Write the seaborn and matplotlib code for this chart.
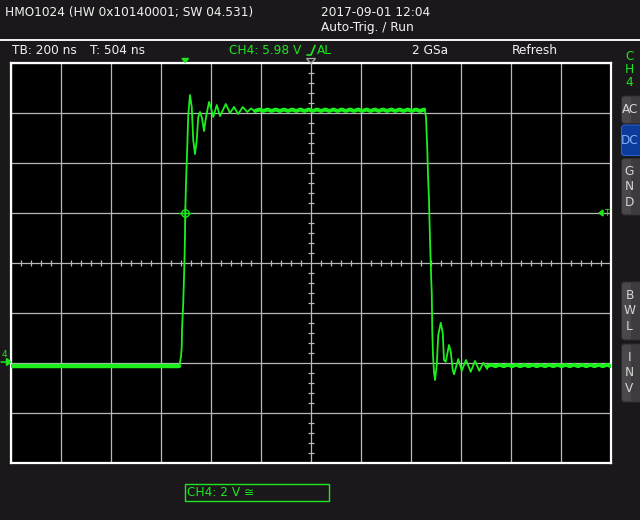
import numpy as np
import pandas as pd
import matplotlib
matplotlib.use("Agg")
import matplotlib.pyplot as plt
from matplotlib.patches import FancyBboxPatch, Rectangle, Polygon
import seaborn as sns

# CH4 waveform: time in ns (relative to trigger), voltage in V
base_t = [-696, -24]
base_v = [-0.1, -0.1]

rise_t = [-24, -20, -16, -13, -12, -7, -2, 0, 1, 4, 9, 13, 20, 27, 33, 40, 47, 53,
          60, 68, 76, 84, 96, 104, 113, 127, 140, 163, 180, 196, 213, 231, 249, 264, 280]
rise_v = [-0.08, 0.02, 0.26, 0.66, 1.32, 2.4, 4.12, 5.12, 6.0, 7.2, 8.64, 9.92, 10.72,
          10.24, 8.92, 8.36, 8.92, 9.84, 10.04, 9.8, 9.28, 9.84, 10.44, 10.2, 9.84,
          10.32, 9.88, 10.36, 10.0, 10.24, 9.96, 10.24, 10.04, 10.18, 10.06]

plateau_t = [280, 297, 313, 330, 346, 363, 379, 396, 412, 429, 445, 462, 478, 495,
             511, 528, 544, 561, 577, 594, 610, 627, 643, 660, 676, 693, 709, 726,
             742, 759, 775, 792, 808, 825, 841, 858, 874, 891, 907, 924, 940, 957]
plateau_v = [10.08, 10.14, 10.08, 10.14, 10.08, 10.14, 10.08, 10.14, 10.08, 10.14,
             10.08, 10.14, 10.08, 10.14, 10.08, 10.14, 10.08, 10.14, 10.08, 10.14,
             10.08, 10.14, 10.08, 10.14, 10.08, 10.14, 10.08, 10.14, 10.08, 10.14,
             10.08, 10.14, 10.08, 10.14, 10.08, 10.14, 10.08, 10.14, 10.08, 10.14,
             10.08, 10.14]

fall_t = [957, 960, 964, 966, 969, 972, 976, 980, 985, 987, 989, 992, 996, 1000,
          1007, 1013, 1023, 1031, 1036, 1043, 1047, 1056, 1063, 1071, 1076, 1093,
          1107, 1124, 1143, 1160, 1177, 1193, 1209]
fall_v = [10.14, 10.06, 9.84, 9.32, 8.6, 7.52, 6.52, 4.92, 3.32, 2.8, 1.32, 0.32,
          -0.36, -0.68, -0.08, 1.12, 1.61, 1.2, 0.12, 0.05, 0.25, 0.72, 0.45, -0.28,
          -0.45, 0.16, -0.31, 0.12, -0.35, 0.08, -0.31, 0.01, -0.24]

tail_t = [1209, 1226, 1242, 1259, 1275, 1292, 1308, 1325, 1341, 1358, 1374, 1391,
          1407, 1424, 1440, 1457, 1473, 1490, 1506, 1523, 1539, 1556, 1572, 1589,
          1605, 1622, 1638, 1655, 1671, 1688, 1704]
tail_v = [-0.13, -0.07, -0.13, -0.07, -0.13, -0.07, -0.13, -0.07, -0.13, -0.07,
          -0.13, -0.07, -0.13, -0.07, -0.13, -0.07, -0.13, -0.07, -0.13, -0.07,
          -0.13, -0.07, -0.13, -0.07, -0.13, -0.07, -0.13, -0.07, -0.13, -0.07, -0.13]

trig_t, trig_v = 0, 6.0

BG = "#1b181b"
GREEN = "#1ee61e"
TRACE = "#1cf01c"
GRID = "#b8b8b8"
WHITE = "#f2f2f2"
FS = 8.7

sns.set_style("dark", rc={"axes.facecolor": "black", "figure.facecolor": BG,
                          "axes.edgecolor": "white", "grid.color": GRID})
plt.rcParams["font.family"] = ["DejaVu Sans"]

fig = plt.figure(figsize=(6.4, 5.2), dpi=100)
ax = fig.add_axes([11 / 640, 57 / 520, 600 / 640, 400 / 520])

# scope graticule: 12 x 8 divisions, 200 ns / 2 V per division
ax.set_xlim(-696, 1704)
ax.set_ylim(-4, 12)
ax.set_xticks(np.arange(-696, 1705, 200))
ax.set_yticks(np.arange(-4, 12.1, 2))
ax.grid(True, color=GRID, lw=0.9)
ax.set_axisbelow(True)
ax.tick_params(length=0, labelbottom=False, labelleft=False)
for s in ax.spines.values():
    s.set_visible(True)
    s.set_color("white")
    s.set_linewidth(1.6)

minor_t = [t for t in np.arange(-696, 1705, 40) if (t + 696) % 200 != 0]
ax.vlines(minor_t, 4 - 0.12, 4 + 0.12, color=GRID, lw=0.9)
minor_v = [v for v in np.arange(-4, 12.01, 0.4) if abs(v / 2 - round(v / 2)) > 1e-6]
ax.hlines(minor_v, 504 - 12, 504 + 12, color=GRID, lw=0.9)

segments = [(base_t, base_v, 3.2), (plateau_t, plateau_v, 2.8), (tail_t, tail_v, 2.8),
            (rise_t, rise_v, 1.3), (fall_t, fall_v, 1.3)]
for t, v, w in segments:
    df = pd.DataFrame({"t_ns": t, "volts": v})
    sns.lineplot(data=df, x="t_ns", y="volts", sort=False, estimator=None,
                 color=TRACE, lw=w, ax=ax, zorder=3)
ax.set_xlabel("")
ax.set_ylabel("")

# trigger crosshair
ax.plot([trig_t], [trig_v], marker="o", ms=5.3, mfc="none", mec=GREEN, mew=1.0, zorder=4)
ax.plot([trig_t], [trig_v], marker="+", ms=10, mec=GREEN, mew=1.0, zorder=4)

# overlay in screen pixels for the scope's user interface
ov = fig.add_axes([0, 0, 1, 1])
ov.set_xlim(0, 640)
ov.set_ylim(520, 0)
ov.axis("off")
ov.patch.set_alpha(0)
ov.set_zorder(5)

ov.text(5, 12.5, "HMO1024 (HW 0x10140001; SW 04.531)", color=WHITE, fontsize=FS, va="center")
ov.text(321, 12.5, "2017-09-01 12:04", color=WHITE, fontsize=FS, va="center")
ov.text(321, 27, "Auto-Trig. / Run", color=WHITE, fontsize=FS, va="center")
ov.plot([0, 640], [40, 40], color=WHITE, lw=1.4)

ov.text(11.5, 50.5, "TB: 200 ns", color=WHITE, fontsize=FS, va="center")
ov.text(90.5, 50.5, "T: 504 ns", color=WHITE, fontsize=FS, va="center")
ov.text(229, 50.5, "CH4: 5.98 V", color=GREEN, fontsize=FS, va="center")
ov.plot([307, 311, 315], [55, 55, 45.5], color=GREEN, lw=1.2)
ov.text(316.5, 50.5, "AL", color=GREEN, fontsize=FS, va="center")
ov.text(412.5, 50.5, "2 GSa", color=WHITE, fontsize=FS, va="center")
ov.text(511.5, 50.5, "Refresh", color=WHITE, fontsize=FS, va="center")

# top markers (trigger position and screen centre)
ov.add_patch(Polygon([[182, 58.5], [188.5, 58.5], [185.2, 62.5]], closed=True, color=GREEN))
ov.add_patch(Polygon([[306.5, 58.5], [315.5, 58.5], [311, 63.5]], closed=True,
                     fill=False, ec="#a8a8a8", lw=0.9))

# ground / trigger level markers
ov.text(4, 354.5, "4", color=GREEN, fontsize=6.5, ha="center", va="center")
ov.plot([1, 8], [362, 362], color=GREEN, lw=1.1)
ov.add_patch(Polygon([[6.5, 358.5], [11, 362], [6.5, 365.5]], closed=True, color=GREEN))
ov.add_patch(Polygon([[599, 213], [603, 210], [603, 216]], closed=True, color=GREEN))
ov.plot([601, 604], [213, 213], color=GREEN, lw=1.0)
ov.text(606.5, 213, "T", color=GREEN, fontsize=6.5, ha="center", va="center")

# right side channel menu
for i, ch in enumerate("CH4"):
    ov.text(629.5, 57 + 12.8 * i, ch, color=GREEN, fontsize=FS, ha="center", va="center")

buttons = [(96, 123.5, ["AC"], False), (125, 155.5, ["DC"], True),
           (158.5, 215, ["G", "N", "D"], False), (282, 340, ["B", "W", "L"], False),
           (344, 402, ["I", "N", "V"], False)]
for y0, y1, letters, active in buttons:
    face = "#0c3b9c" if active else "#4b484b"
    ov.add_patch(FancyBboxPatch((621.5, y0), 25, y1 - y0,
                                boxstyle="round,pad=0,rounding_size=3",
                                fc=face, ec="#2a5fcf" if active else "#2e2b2e", lw=0.8))
    if not active:
        ov.add_patch(Rectangle((630.5, y0 + 0.6), 10, y1 - y0 - 1.2, fc="#3e3b3e", ec="none"))
    tc = "#7fb0f5" if active else "#d6d6d6"
    ym = (y0 + y1) / 2
    n = len(letters)
    for k, s in enumerate(letters):
        ov.text(630 if n == 1 else 629.5, ym + (k - (n - 1) / 2) * 15.5, s,
                color=tc, fontsize=FS, ha="center", va="center")

# bottom channel info box
ov.add_patch(Rectangle((185, 483.5), 144, 17, fill=False, ec=GREEN, lw=1.0))
ov.text(187, 492.3, "CH4: 2 V \u2245", color=GREEN, fontsize=FS, va="center")

fig.savefig("out.png", dpi=100, facecolor=BG)
